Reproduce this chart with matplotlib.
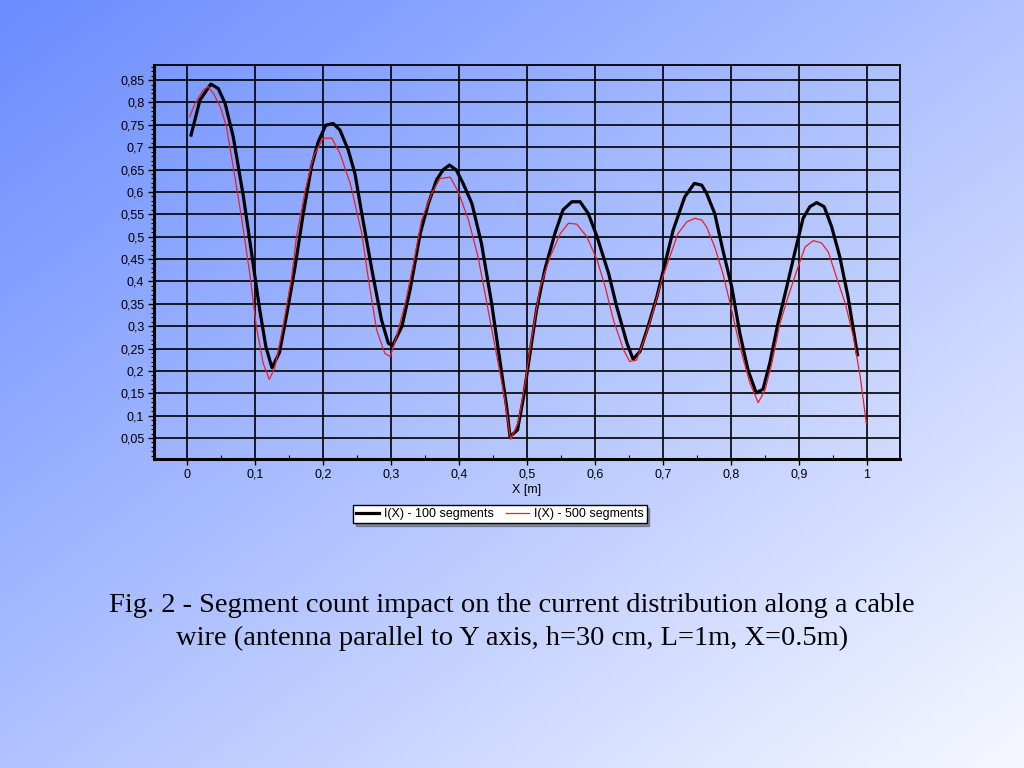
import numpy as np
import matplotlib
matplotlib.use("Agg")
import matplotlib.pyplot as plt
from matplotlib.ticker import FuncFormatter, MultipleLocator

plt.rcParams['font.family'] = ['Liberation Sans', 'DejaVu Sans']

# I(X) - 100 segments
x100 = [0.006, 0.019, 0.035, 0.046, 0.056, 0.068, 0.083, 0.095, 0.107, 0.116,
        0.125, 0.136, 0.147, 0.159, 0.171, 0.183, 0.193, 0.204, 0.215, 0.225,
        0.237, 0.247, 0.257, 0.272, 0.286, 0.296, 0.302, 0.316, 0.328, 0.343,
        0.355, 0.367, 0.377, 0.386, 0.396, 0.406, 0.419, 0.433, 0.448, 0.460,
        0.470, 0.475, 0.486, 0.495, 0.504, 0.514, 0.526, 0.541, 0.553, 0.566,
        0.578, 0.590, 0.603, 0.620, 0.632, 0.647, 0.656, 0.666, 0.678, 0.691,
        0.703, 0.715, 0.732, 0.746, 0.757, 0.764, 0.776, 0.788, 0.801, 0.813,
        0.825, 0.837, 0.847, 0.857, 0.869, 0.882, 0.894, 0.906, 0.916, 0.926,
        0.937, 0.948, 0.960, 0.972, 0.986]
i100 = [0.727, 0.805, 0.841, 0.831, 0.798, 0.723, 0.589, 0.463, 0.336, 0.254,
        0.207, 0.241, 0.329, 0.433, 0.552, 0.656, 0.712, 0.749, 0.753, 0.738,
        0.694, 0.641, 0.552, 0.425, 0.314, 0.262, 0.256, 0.299, 0.381, 0.507,
        0.574, 0.627, 0.650, 0.660, 0.649, 0.619, 0.574, 0.485, 0.351, 0.224,
        0.120, 0.053, 0.068, 0.142, 0.235, 0.336, 0.425, 0.507, 0.560, 0.578,
        0.578, 0.552, 0.500, 0.418, 0.343, 0.262, 0.226, 0.243, 0.299, 0.366,
        0.440, 0.515, 0.589, 0.619, 0.615, 0.597, 0.552, 0.470, 0.388, 0.284,
        0.202, 0.151, 0.159, 0.217, 0.306, 0.388, 0.466, 0.541, 0.567, 0.576,
        0.567, 0.522, 0.455, 0.366, 0.236]

# I(X) - 500 segments
x500 = [0.004, 0.012, 0.024, 0.031, 0.039, 0.049, 0.058, 0.068, 0.080, 0.093,
        0.102, 0.112, 0.121, 0.129, 0.142, 0.154, 0.161, 0.174, 0.186, 0.200,
        0.213, 0.225, 0.240, 0.247, 0.257, 0.267, 0.279, 0.291, 0.299, 0.308,
        0.321, 0.333, 0.345, 0.360, 0.372, 0.387, 0.399, 0.414, 0.428, 0.441,
        0.453, 0.465, 0.476, 0.487, 0.497, 0.507, 0.519, 0.534, 0.549, 0.561,
        0.573, 0.588, 0.603, 0.615, 0.627, 0.642, 0.651, 0.661, 0.674, 0.686,
        0.698, 0.710, 0.722, 0.735, 0.747, 0.757, 0.764, 0.776, 0.788, 0.801,
        0.813, 0.828, 0.840, 0.850, 0.860, 0.872, 0.884, 0.897, 0.909, 0.921,
        0.933, 0.943, 0.955, 0.968, 0.980, 0.990, 0.999]
i500 = [0.768, 0.798, 0.828, 0.835, 0.820, 0.790, 0.746, 0.656, 0.545, 0.410,
        0.299, 0.217, 0.181, 0.206, 0.306, 0.410, 0.500, 0.604, 0.679, 0.720,
        0.720, 0.686, 0.619, 0.574, 0.507, 0.403, 0.291, 0.239, 0.232, 0.276,
        0.351, 0.440, 0.537, 0.597, 0.630, 0.633, 0.600, 0.537, 0.455, 0.351,
        0.254, 0.157, 0.047, 0.085, 0.170, 0.275, 0.385, 0.455, 0.507, 0.530,
        0.528, 0.500, 0.448, 0.388, 0.314, 0.247, 0.221, 0.224, 0.276, 0.336,
        0.403, 0.455, 0.507, 0.533, 0.541, 0.537, 0.522, 0.477, 0.418, 0.336,
        0.254, 0.172, 0.129, 0.157, 0.217, 0.306, 0.366, 0.425, 0.477, 0.491,
        0.486, 0.466, 0.410, 0.351, 0.276, 0.187, 0.083]

caption = ("Fig. 2 - Segment count impact on the current distribution along a cable\n"
           "wire (antenna parallel to Y axis, h=30 cm, L=1m, X=0.5m)")

fig = plt.figure(figsize=(10.24, 7.68), dpi=100)

# slide background, diagonal blue -> white gradient
bg = fig.add_axes([0, 0, 1, 1], zorder=-10)
gx, gy = np.meshgrid(np.linspace(0, 1, 256), np.linspace(0, 1, 192))
t = (gx + gy) / 2.0
c0 = np.array([106, 140, 255]) / 255.0
c1 = np.array([246, 248, 255]) / 255.0
img = c0[None, None, :] + t[:, :, None] * (c1 - c0)[None, None, :]
bg.imshow(img, aspect="auto", extent=[0, 1, 0, 1], origin="upper")
bg.axis("off")

ax = fig.add_axes([0.1504, 0.4023, 0.7285, 0.5130])
ax.patch.set_alpha(0)

ax.plot(x100, i100, color="black", lw=2.3, label="I(X) - 100 segments", zorder=4)
ax.plot(x500, i500, color="#e8202a", lw=0.9, label="I(X) - 500 segments", zorder=5)

ax.set_xlim(-0.0485, 1.0485)
ax.set_ylim(0.003, 0.8835)

ax.xaxis.set_major_locator(MultipleLocator(0.1))
ax.xaxis.set_minor_locator(MultipleLocator(0.05))
ax.yaxis.set_major_locator(MultipleLocator(0.05))
ax.yaxis.set_minor_locator(MultipleLocator(0.01))

def comma(v, pos):
    s = "%.2f" % v
    s = s.rstrip("0").rstrip(".")
    if s == "-0":
        s = "0"
    return s.replace(".", ",")

ax.xaxis.set_major_formatter(FuncFormatter(comma))
ax.yaxis.set_major_formatter(FuncFormatter(comma))

ax.set_xticks([v / 10 for v in range(11)])
ax.set_yticks([v / 100 for v in range(5, 90, 5)])

ax.grid(True, which="major", color="black", lw=1.2, zorder=1)
ax.tick_params(axis="both", which="major", labelsize=9, length=4, width=1, color="black", pad=3)
ax.tick_params(axis="y", which="minor", length=2, width=0.8)
ax.tick_params(axis="x", which="minor", length=3, width=0.8, direction="in")

for side in ["left", "bottom"]:
    ax.spines[side].set_linewidth(2.2)
for side in ["top", "right"]:
    ax.spines[side].set_linewidth(1.3)

ax.set_xlabel("X [m]", fontsize=9, labelpad=2)

fig.legend(loc="upper center", bbox_to_anchor=(500 / 1024, 1 - 505 / 768), ncol=2,
           fontsize=9, frameon=True, fancybox=False, shadow=True, edgecolor="black",
           facecolor="white", framealpha=1, handlelength=1.8, handletextpad=0.4,
           columnspacing=1.0, borderpad=0.25, borderaxespad=0)

fig.text(0.5, 1 - 622 / 768, caption, ha="center", va="center", fontsize=20.5,
         family="Liberation Serif", linespacing=1.45)

fig.savefig("out.png", dpi=100)
